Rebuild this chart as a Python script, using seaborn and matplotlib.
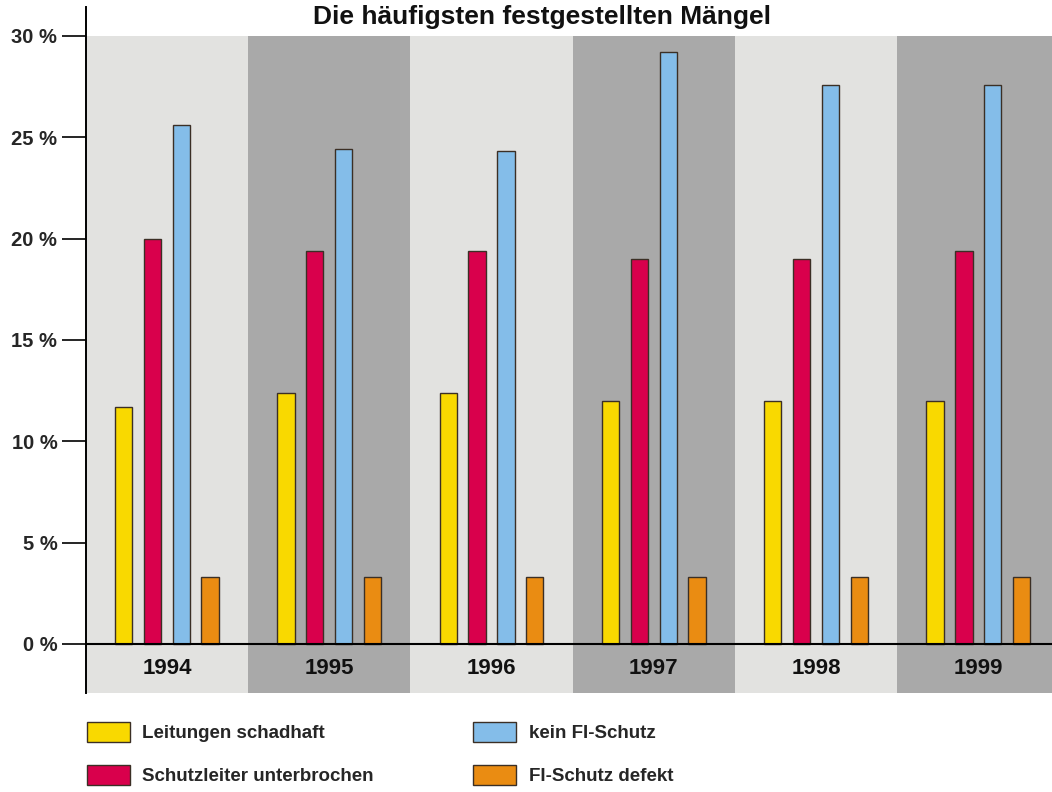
import matplotlib
matplotlib.use("Agg")
import matplotlib.pyplot as plt
from matplotlib.patches import Patch
import seaborn as sns
import pandas as pd

# --- data -------------------------------------------------------------
years = ["1994", "1995", "1996", "1997", "1998", "1999"]
series_names = [
    "Leitungen schadhaft",
    "Schutzleiter unterbrochen",
    "kein FI-Schutz",
    "FI-Schutz defekt",
]
leitungen_schadhaft = [11.7, 12.4, 12.4, 12.0, 12.0, 12.0]
schutzleiter_unterbrochen = [20.0, 19.4, 19.4, 19.0, 19.0, 19.4]
kein_fi_schutz = [25.6, 24.4, 24.3, 29.2, 27.6, 27.6]
fi_schutz_defekt = [3.3, 3.3, 3.3, 3.3, 3.3, 3.3]
y_ticks = [0, 5, 10, 15, 20, 25, 30]
title_text = "Die häufigsten festgestellten Mängel"

series_colors = ["#f9d900", "#d9004c", "#84bde9", "#ea8c12"]
band_colors = ["#e2e2e0", "#a9a9a9"]

values = [leitungen_schadhaft, schutzleiter_unterbrochen, kein_fi_schutz, fi_schutz_defekt]
df = pd.DataFrame(
    [(y, name, v) for name, vals in zip(series_names, values) for y, v in zip(years, vals)],
    columns=["Jahr", "Mangel", "Anteil"],
)

# --- figure -----------------------------------------------------------
sns.set_style("white")
plt.rcParams["font.family"] = ["Liberation Sans", "DejaVu Sans"]

fig = plt.figure(figsize=(10.52, 7.92), dpi=100)
ax = fig.add_axes([0.0815, 0.125, 0.9185, 0.8662])

y_lo, y_hi = -2.42, 31.43
x_lo, x_hi = -0.5, 5.454
ax.set_ylim(y_lo, y_hi)

# alternating background bands per year, running from below the zero line up to 30 %
band_top = (30 - y_lo) / (y_hi - y_lo)
for i in range(len(years)):
    ax.axvspan(i - 0.5, i + 0.5, ymin=0, ymax=band_top,
               color=band_colors[i % 2], lw=0, zorder=0)

sns.barplot(
    data=df, x="Jahr", y="Anteil", hue="Mangel",
    hue_order=series_names, order=years,
    palette=series_colors, saturation=1, width=0.71, gap=0.4,
    edgecolor="#3b2f25", linewidth=1.0,
    errorbar=None, legend=False, ax=ax, zorder=2,
)
ax.set_xlim(x_lo, x_hi)
ax.set_ylim(y_lo, y_hi)

# zero line
ax.axhline(0, color="black", lw=1.5, zorder=3)

# axes styling
for side in ["top", "right", "bottom"]:
    ax.spines[side].set_visible(False)
ax.spines["left"].set_color("black")
ax.spines["left"].set_linewidth(1.4)
ax.set_xlabel("")
ax.set_ylabel("")
ax.set_yticks(y_ticks)
ax.set_yticklabels([f"{t} %" for t in y_ticks], fontsize=14.5, fontweight="bold")
ax.tick_params(axis="y", length=17, width=1.2, color="black", pad=3.5, left=True)
ax.set_xticks([])
ax.grid(False)

# year labels inside the strip below the zero line
for i, year in enumerate(years):
    ax.text(i, -1.22, year, ha="center", va="center",
            fontsize=16, fontweight="bold", color="#111111", zorder=4)

# title in the white strip above the chart
fig.text(0.515, 1 - 24 / 792, title_text, ha="center", va="baseline",
         fontsize=19, fontweight="bold", color="#111111")

# legend below the chart
handles = [Patch(facecolor=c, edgecolor="#3b2f25", linewidth=1.0) for c in series_colors]
fig.legend(
    handles, series_names,
    loc="upper left", bbox_to_anchor=(87 / 1052, 1 - 722 / 792),
    ncol=2, frameon=False, borderpad=0, borderaxespad=0,
    handlelength=2.29, handleheight=1.23, handletextpad=0.67,
    columnspacing=5.3, labelspacing=1.23,
    prop={"size": 13.5, "weight": "bold"},
)

fig.savefig("out.png", dpi=100, facecolor="white")
